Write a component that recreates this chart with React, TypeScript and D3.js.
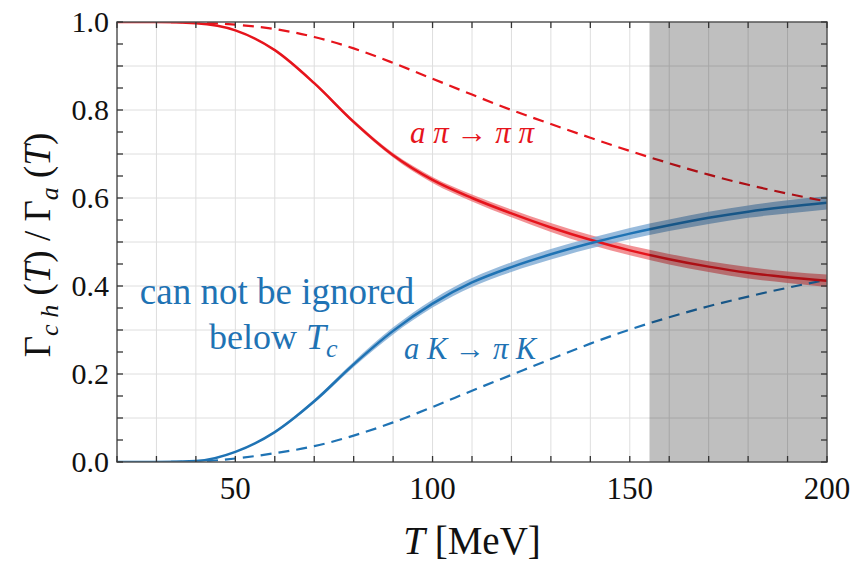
import React from "react";
import * as d3 from "d3";

// Temperature grid (MeV) shared by all series
const temps = [20, 30, 40, 50, 60, 70, 80, 90, 100, 110, 120, 130, 140, 150, 160, 170, 180, 190, 200];

// a pi -> pi pi : full result (solid), reference (dashed), band half-width
const piSolid = [1.0, 1.0, 0.997, 0.981, 0.936, 0.861, 0.773, 0.697, 0.641, 0.6, 0.565, 0.533, 0.505, 0.481, 0.461, 0.444, 0.43, 0.42, 0.412];
const piDashed = [1.0, 1.0, 0.999, 0.994, 0.984, 0.966, 0.94, 0.907, 0.871, 0.835, 0.8, 0.768, 0.737, 0.707, 0.679, 0.653, 0.63, 0.61, 0.592];
const piBand = [0, 0, 0, 0.001, 0.002, 0.003, 0.004, 0.005, 0.007, 0.008, 0.009, 0.01, 0.011, 0.011, 0.012, 0.012, 0.013, 0.013, 0.014];

// a K -> pi K
const kSolid = [0, 0, 0.002, 0.023, 0.068, 0.138, 0.222, 0.298, 0.36, 0.408, 0.443, 0.472, 0.497, 0.519, 0.538, 0.555, 0.569, 0.58, 0.589];
const kDashed = [0, 0, 0.001, 0.008, 0.02, 0.036, 0.06, 0.09, 0.125, 0.162, 0.198, 0.234, 0.269, 0.301, 0.329, 0.354, 0.376, 0.396, 0.414];
const kBand = [0, 0, 0, 0.001, 0.002, 0.004, 0.006, 0.008, 0.009, 0.01, 0.011, 0.012, 0.012, 0.013, 0.013, 0.014, 0.014, 0.015, 0.015];

const xTickLabels = [50, 100, 150, 200];
const yTickLabels = [0.0, 0.2, 0.4, 0.6, 0.8, 1.0];
const tcStart = 155;

const RED = "#e6141c";
const BLUE = "#1f73b4";
const FONT = "Liberation Serif";

export default function App() {
  const W = 859, H = 568;
  const left = 117, right = 827, top = 22, bottom = 462;

  const x = d3.scaleLinear().domain([20, 200]).range([left, right]);
  const y = d3.scaleLinear().domain([0, 1]).range([bottom, top]);

  const line = (vals: number[]) =>
    d3.line<number>()
      .x((_, i) => x(temps[i]))
      .y((v) => y(v))
      .curve(d3.curveMonotoneX)(vals) as string;

  const band = (vals: number[], hw: number[]) =>
    d3.area<number>()
      .x((_, i) => x(temps[i]))
      .y0((v, i) => y(v - hw[i]))
      .y1((v, i) => y(v + hw[i]))
      .curve(d3.curveMonotoneX)(vals) as string;

  const xGrid = d3.range(30, 200, 10);
  const yGrid = d3.range(0.1, 1.0, 0.1);
  const xTicks = d3.range(20, 201, 10);
  const yTicks = d3.range(0, 1.0001, 0.05);
  const tickLen = 6;

  return (
    <svg width={W} height={H} style={{ position: "fixed", left: 0, top: 0 }}>
      <rect x={0} y={0} width={W} height={H} fill="#fff" />
      <defs>
        <clipPath id="plotArea">
          <rect x={left} y={top} width={right - left} height={bottom - top} />
        </clipPath>
      </defs>

      {/* grid */}
      {xGrid.map((t) => (
        <line key={"gx" + t} x1={x(t)} x2={x(t)} y1={top} y2={bottom} stroke="#dedede" strokeWidth={1} />
      ))}
      {yGrid.map((v) => (
        <line key={"gy" + v} x1={left} x2={right} y1={y(v)} y2={y(v)} stroke="#dedede" strokeWidth={1} />
      ))}

      <g clipPath="url(#plotArea)">
        {/* uncertainty bands */}
        <path d={band(piSolid, piBand)} fill="#ee6e72" opacity={0.75} />
        <path d={band(kSolid, kBand)} fill="#7eaad3" opacity={0.8} />

        {/* dashed reference curves */}
        <path d={line(piDashed)} fill="none" stroke={RED} strokeWidth={2.2} strokeDasharray="11,7" />
        <path d={line(kDashed)} fill="none" stroke={BLUE} strokeWidth={2.2} strokeDasharray="11,7" />

        {/* central curves */}
        <path d={line(piSolid)} fill="none" stroke={RED} strokeWidth={2.5} />
        <path d={line(kSolid)} fill="none" stroke={BLUE} strokeWidth={2.5} />

        {/* region above T_c */}
        <rect x={x(tcStart)} y={top} width={x(200) - x(tcStart)} height={bottom - top} fill="#000" opacity={0.25} />
      </g>

      {/* frame */}
      <rect x={left} y={top} width={right - left} height={bottom - top} fill="none" stroke="#555" strokeWidth={1.5} />

      {/* ticks, inward on all four sides */}
      {xTicks.map((t) => (
        <g key={"tx" + t} stroke="#333" strokeWidth={1.3}>
          <line x1={x(t)} x2={x(t)} y1={bottom} y2={bottom - tickLen} />
          <line x1={x(t)} x2={x(t)} y1={top} y2={top + tickLen} />
        </g>
      ))}
      {yTicks.map((v, i) => (
        <g key={"ty" + i} stroke="#333" strokeWidth={1.3}>
          <line x1={left} x2={left + tickLen} y1={y(v)} y2={y(v)} />
          <line x1={right} x2={right - tickLen} y1={y(v)} y2={y(v)} />
        </g>
      ))}

      {/* tick labels */}
      {xTickLabels.map((t) => (
        <text key={"lx" + t} x={x(t)} y={499} textAnchor="middle" fontSize={31} fill="#111" fontFamily={FONT}>
          {t}
        </text>
      ))}
      {yTickLabels.map((v) => (
        <text key={"ly" + v} x={109} y={y(v) + 10} textAnchor="end" fontSize={30} fill="#111" fontFamily={FONT}>
          {v.toFixed(1)}
        </text>
      ))}

      {/* axis titles */}
      <text x={472} y={554} textAnchor="middle" fontSize={39} fill="#111" fontFamily={FONT}>
        <tspan fontStyle="italic">T</tspan>
        <tspan> [MeV]</tspan>
      </text>
      <text transform="translate(50,245) rotate(-90)" textAnchor="middle" fontSize={37} fill="#111" fontFamily={FONT}>
        <tspan>Γ</tspan>
        <tspan fontStyle="italic" fontSize={26} dy={8}>c h</tspan>
        <tspan dy={-8}> (</tspan>
        <tspan fontStyle="italic">T</tspan>
        <tspan>) / Γ</tspan>
        <tspan fontStyle="italic" fontSize={26} dy={8}>a</tspan>
        <tspan dy={-8}> (</tspan>
        <tspan fontStyle="italic">T</tspan>
        <tspan>)</tspan>
      </text>

      {/* curve labels */}
      <text x={410} y={143} fontSize={31} fill={RED} fontStyle="italic" fontFamily={FONT}>
        a π → π  π
      </text>
      <text x={404} y={359} fontSize={30.5} fill={BLUE} fontStyle="italic" fontFamily={FONT}>
        a K → π K
      </text>
      <text x={277} y={304} textAnchor="middle" fontSize={37} fill={BLUE} fontFamily={FONT}>
        can not be ignored
      </text>
      <text x={209} y={349} fontSize={36} fill={BLUE} fontFamily={FONT}>
        <tspan>below </tspan>
        <tspan fontStyle="italic">T</tspan>
        <tspan fontStyle="italic" fontSize={26} dy={8}>c</tspan>
      </text>
    </svg>
  );
}
